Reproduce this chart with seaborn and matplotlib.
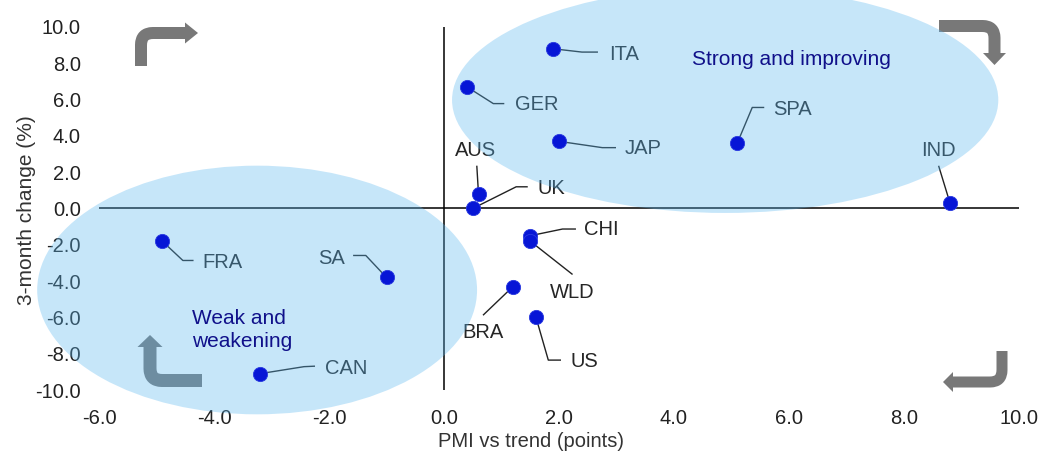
import matplotlib
matplotlib.use("Agg")
import matplotlib.pyplot as plt
import matplotlib.transforms as mtransforms
from matplotlib.patches import Ellipse, PathPatch, Polygon
from matplotlib.path import Path
import seaborn as sns
import pandas as pd

# ---- data -------------------------------------------------------------
countries = ["ITA", "GER", "JAP", "SPA", "IND", "AUS", "UK",
             "CHI", "WLD", "BRA", "US", "FRA", "SA", "CAN"]
pmi_vs_trend = [1.9, 0.4, 2.0, 5.1, 8.8, 0.6, 0.5,
                1.5, 1.5, 1.2, 1.6, -4.9, -1.0, -3.2]
change_3m = [8.8, 6.7, 3.7, 3.6, 0.3, 0.8, 0.0,
             -1.5, -1.8, -4.3, -6.0, -1.8, -3.8, -9.1]
x_ticks = [-6.0, -4.0, -2.0, 0.0, 2.0, 4.0, 6.0, 8.0, 10.0]
y_ticks = [-10.0, -8.0, -6.0, -4.0, -2.0, 0.0, 2.0, 4.0, 6.0, 8.0, 10.0]

# label placement: offsets in pixels from each point (right, up)
# (knee, line end, text anchor, horizontal alignment)
label_layout = {
    "ITA": [(28.7, -3.3), (44.7, -3.3), (55.7, -6.0), "left"],
    "GER": [(26.3, -16.7), (37.3, -16.7), (48.0, -17.7), "left"],
    "JAP": [(43.3, -6.3), (57.0, -6.3), (66.0, -7.3), "left"],
    "SPA": [(15.0, 35.7), (27.0, 35.7), (36.0, 33.3), "left"],
    "IND": [None, (-11.4, 37.3), (-11.4, 52.3), "center"],
    "AUS": [None, (-1.7, 28.3), (-2.7, 43.6), "center"],
    "UK":  [(43.4, 21.7), (55.0, 21.7), (65.0, 19.7), "left"],
    "CHI": [(32.3, 6.7), (45.7, 6.7), (54.0, 6.0), "left"],
    "WLD": [None, (42.3, -33.3), (41.6, -51.0), "center"],
    "BRA": [None, (-30.0, -28.7), (-30.0, -46.0), "center"],
    "US":  [(12.3, -42.7), (25.0, -42.7), (34.0, -43.7), "left"],
    "FRA": [(20.6, -19.3), (31.3, -19.3), (40.6, -21.0), "left"],
    "SA":  [(-20.7, 22.0), (-33.4, 22.0), (-41.7, 19.0), "right"],
    "CAN": [(44.0, 7.0), (55.0, 7.5), (65.0, 5.0), "left"],
}

df = pd.DataFrame({"country": countries, "pmi": pmi_vs_trend, "chg": change_3m})

# ---- style ------------------------------------------------------------
sns.set_theme(style="white")
plt.rcParams["font.family"] = ["Liberation Sans", "DejaVu Sans"]

W, H = 1056, 455
fig = plt.figure(figsize=(W / 100, H / 100), dpi=100)
ax = fig.add_axes([99 / W, 1 - 390 / H, 920 / W, 363 / H])

# pixel scale of one data unit
sx = 920 / 16.0
sy = 363 / 20.0

# the points
sns.scatterplot(data=df, x="pmi", y="chg", ax=ax, color="#0716d6",
                s=105, edgecolor="#2a3ae0", linewidth=0.6, zorder=4,
                legend=False)

ax.set_xlim(-6, 10)
ax.set_ylim(-10, 10)

# quadrant axes through the origin
ax.axhline(0, color="black", lw=1.1, zorder=2)
ax.axvline(0, color="black", lw=1.1, zorder=2)

for s in ax.spines.values():
    s.set_visible(False)

ax.set_xticks(x_ticks)
ax.set_yticks(y_ticks)
ax.set_xticklabels([f"{v:.1f}" for v in x_ticks])
ax.set_yticklabels([f"{v:.1f}" for v in y_ticks])
ax.tick_params(axis="both", length=0, labelsize=14.5, colors="#222222")
ax.tick_params(axis="x", pad=13.5)
ax.tick_params(axis="y", pad=13)

ax.set_xlabel("PMI vs trend (points)", fontsize=14.5, color="#333333")
ax.set_ylabel("3-month change (%)", fontsize=15, color="#333333")
ax.xaxis.set_label_coords(0.47, -0.115)
ax.yaxis.set_label_coords(-0.068, 0.496)

# country labels and leader lines
for c, x, y in zip(countries, pmi_vs_trend, change_3m):
    knee, end, txt, ha = label_layout[c]
    xs, ys = [x], [y]
    if knee is not None:
        xs.append(x + knee[0] / sx)
        ys.append(y + knee[1] / sy)
    xs.append(x + end[0] / sx)
    ys.append(y + end[1] / sy)
    ax.plot(xs, ys, color="#222222", lw=1.0, zorder=2, solid_capstyle="butt")
    ax.text(x + txt[0] / sx, y + txt[1] / sy, c, ha=ha, va="center",
            fontsize=14.5, color="#262626", zorder=2)

# bent grey arrows in the corners (pixel coordinates, origin top-left)
pix = mtransforms.Affine2D().scale(1 / W, -1 / H).translate(0, 1) + fig.transFigure


def bent_arrow(start, corner, end, tip, half, width, color, r=12):
    def toward(p, q, d):
        dx, dy = q[0] - p[0], q[1] - p[1]
        n = (dx ** 2 + dy ** 2) ** 0.5
        return (p[0] + dx / n * d, p[1] + dy / n * d)
    a = toward(corner, start, r)
    b = toward(corner, end, r)
    path = Path([start, a, corner, b, end],
                [Path.MOVETO, Path.LINETO, Path.CURVE3, Path.CURVE3, Path.LINETO])
    ax.add_patch(PathPatch(path, facecolor="none", edgecolor=color,
                           lw=width * 0.72, capstyle="butt", joinstyle="round",
                           transform=pix, clip_on=False, zorder=1))
    dx, dy = end[0] - corner[0], end[1] - corner[1]
    n = (dx ** 2 + dy ** 2) ** 0.5
    px_, py_ = -dy / n, dx / n
    head = [(end[0] + px_ * half, end[1] + py_ * half),
            (end[0] - px_ * half, end[1] - py_ * half), tip]
    ax.add_patch(Polygon(head, closed=True, facecolor=color, edgecolor="none",
                         transform=pix, clip_on=False, zorder=1))


arrow_grey = "#787878"
bent_arrow((141, 66), (141, 33), (185, 33), (198, 33), 10.5, 12, arrow_grey)
bent_arrow((939, 26), (994.5, 26), (994.5, 53), (994.5, 65), 11.5, 12, arrow_grey)
bent_arrow((1002, 351), (1002, 382), (953, 382), (943, 382), 10, 11, arrow_grey)
bent_arrow((202, 380.5), (150, 380.5), (150, 347), (150, 335), 12.5, 13, arrow_grey)

# translucent highlight ellipses
ell_color = (90 / 255, 183 / 255, 240 / 255)
ax.add_patch(Ellipse((4.89, 5.98), 9.5, 12.45, facecolor=ell_color,
                     alpha=0.345, edgecolor="none", clip_on=False, zorder=3))
ax.add_patch(Ellipse((-3.25, -4.49), 7.65, 13.7, facecolor=ell_color,
                     alpha=0.345, edgecolor="none", clip_on=False, zorder=3))

# quadrant captions
ax.text(4.31, 8.22, "Strong and improving", ha="left", va="center",
        fontsize=15, color="#10108a", zorder=5)
ax.text(-4.38, -6.69, "Weak and\nweakening", ha="left", va="center",
        fontsize=15, color="#10108a", zorder=5, linespacing=1.25)

fig.savefig("out.png", dpi=100)
